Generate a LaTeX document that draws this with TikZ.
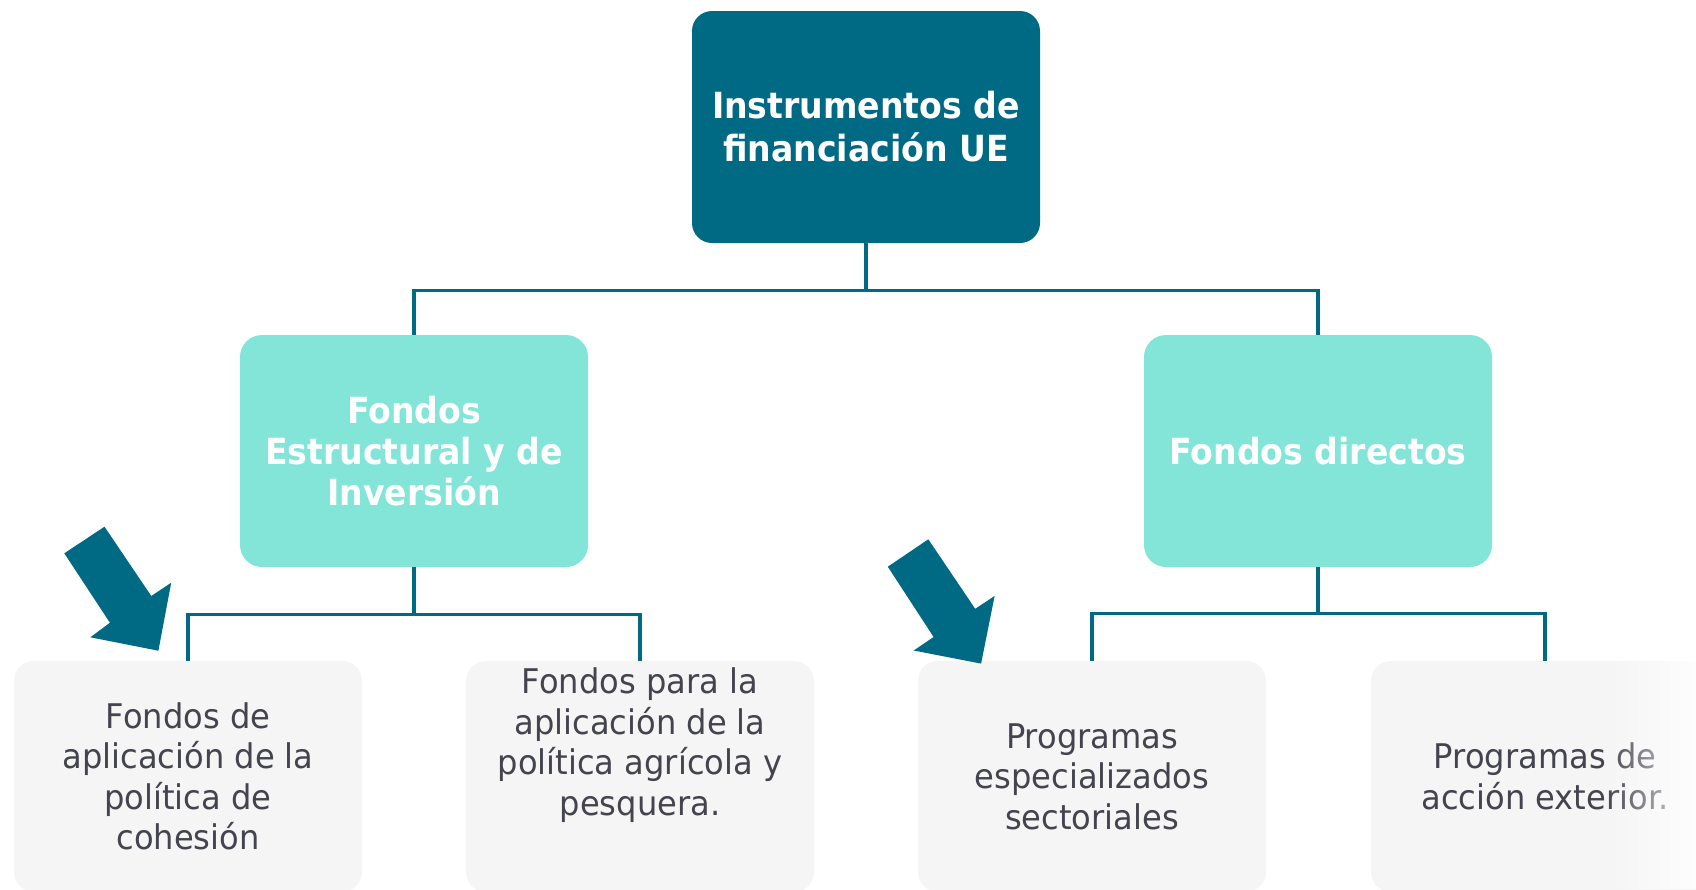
\documentclass[tikz,border=0pt]{standalone}
\usepackage{fontspec}
\setmainfont[FakeStretch=0.945]{DejaVu Sans}
\newfontfamily\bfam[FakeStretch=0.92]{DejaVu Sans}
\usetikzlibrary{fadings}
\definecolor{teal1}{RGB}{0,105,131}
\definecolor{mint}{RGB}{131,229,216}
\definecolor{greybox}{RGB}{245,245,245}
\definecolor{txtgrey}{RGB}{68,68,78}
\tikzfading[name=fadeR, left color=transparent!100, right color=transparent!15]
\begin{document}
\begin{tikzpicture}[x=1pt,y=-1pt,
  box/.style={rounded corners=20pt, minimum width=348pt, minimum height=232pt, inner sep=0pt, align=center},
  topbox/.style={box, fill=teal1, text=white, font=\bfam\bfseries\fontsize{36}{43}\selectfont},
  midbox/.style={box, fill=mint, text=white, font=\bfam\bfseries\fontsize{36}{41}\selectfont, rounded corners=22pt},
  leaftext/.style={text=txtgrey, font=\fontsize{34}{40.5}\selectfont, align=center},
  leafbox/.style={box, fill=greybox, leaftext, minimum height=231pt},
  conn/.style={draw=teal1, line width=3.2pt},
  pointer/.style={fill=teal1}
]
\useasboundingbox (0,0) rectangle (1696,889);
\clip (0,0) rectangle (1696,889);
\fill[white] (0,0) rectangle (1696,889);

\node[topbox] (top) at (866,127) {Instrumentos de\\financiación UE};
\node[midbox] (ml) at (414,451) {Fondos\\Estructural y de\\Inversión};
\node[midbox] (mr) at (1318,451) {Fondos directos};

\node[leafbox] (c1) at (188,776.5) {Fondos de\\aplicación de la\\política de\\cohesión};
\node[leafbox] (c2) at (640,776.5) {};
\node[leaftext] (c2t) at (640,745) {Fondos para la\\aplicación de la\\política agrícola y\\pesquera.};
\node[leafbox] (c3) at (1092,776.5) {Programas\\especializados\\sectoriales};
\node[leafbox] (c4) at (1545,776.5) {Programas de\\acción exterior.};

\draw[conn] (top.south) -- ++(0,47) -| (ml.north);
\draw[conn] (top.south) -- ++(0,47) -| (mr.north);
\draw[conn] (ml.south) -- ++(0,47) -| (c1.north);
\draw[conn] (ml.south) -- ++(0,47) -| (c2.north);
\draw[conn] (mr.south) -- ++(0,46) -| (c3.north);
\draw[conn] (mr.south) -- ++(0,46) -| (c4.north);

\fill[pointer] (64.3,553.3) -- (104.5,526.7) -- (151.3,596) -- (171.2,582.7) -- (158.4,650.7) -- (90.4,637.3) -- (109.9,622.7) -- cycle;
\fill[pointer] (887.8,566.7) -- (928.3,539.3) -- (975.2,608.8) -- (994.6,596) -- (981.1,663.6) -- (913.7,650.5) -- (933.6,637) -- cycle;

\fill[white, path fading=fadeR] (1605,600) rectangle (1696,889);
\end{tikzpicture}
\end{document}
